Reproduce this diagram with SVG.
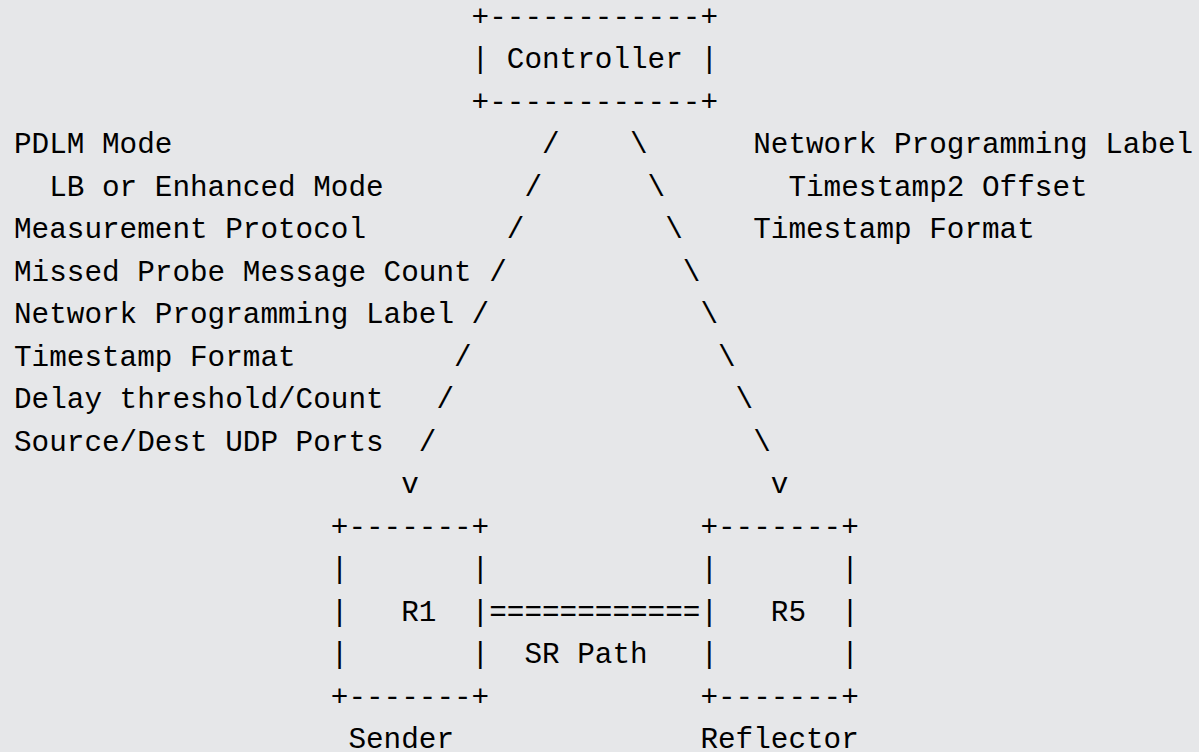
<svg xmlns="http://www.w3.org/2000/svg" width="1199" height="752" viewBox="0 0 1199 752" xml:space="preserve">
<style>
.t{font-family:"Liberation Mono","DejaVu Sans Mono",monospace;font-size:29.33px;fill:#000;white-space:pre}
</style>
<rect x="0" y="0" width="1199" height="752" fill="#e6e7e9"/>
<g transform="translate(1.5,0)">
<g id="controller">
<text class="t" x="470.1" y="25.8">+------------+</text>
<text class="t" x="470.1" y="68.3">|</text>
<text class="t" x="505.3" y="68.3">Controller</text>
<text class="t" x="698.9" y="68.3">|</text>
<text class="t" x="470.1" y="110.8">+------------+</text>
</g>
<g id="left-params">
<text class="t" x="12.5" y="153.3">PDLM Mode</text>
<text class="t" x="47.7" y="195.8">LB or Enhanced Mode</text>
<text class="t" x="12.5" y="238.3">Measurement Protocol</text>
<text class="t" x="12.5" y="280.8">Missed Probe Message Count</text>
<text class="t" x="12.5" y="323.3">Network Programming Label</text>
<text class="t" x="12.5" y="365.8">Timestamp Format</text>
<text class="t" x="12.5" y="408.3">Delay threshold/Count</text>
<text class="t" x="12.5" y="450.8">Source/Dest UDP Ports</text>
</g>
<g id="right-params">
<text class="t" x="751.7" y="153.3">Network Programming Label</text>
<text class="t" x="786.9" y="195.8">Timestamp2 Offset</text>
<text class="t" x="751.7" y="238.3">Timestamp Format</text>
</g>
<g id="r1">
<text class="t" x="329.3" y="535.8">+-------+</text>
<text class="t" x="329.3" y="578.3">|       |</text>
<text class="t" x="329.3" y="620.8">|</text>
<text class="t" x="470.1" y="620.8">|</text>
<text class="t" x="329.3" y="663.3">|       |</text>
<text class="t" x="329.3" y="705.8">+-------+</text>
<text class="t" x="399.7" y="620.8">R1</text>
<text class="t" x="346.9" y="747.5">Sender</text>
</g>
<g id="r5">
<text class="t" x="698.9" y="535.8">+-------+</text>
<text class="t" x="698.9" y="578.3">|       |</text>
<text class="t" x="698.9" y="620.8">|</text>
<text class="t" x="839.7" y="620.8">|</text>
<text class="t" x="698.9" y="663.3">|       |</text>
<text class="t" x="698.9" y="705.8">+-------+</text>
<text class="t" x="769.3" y="620.8">R5</text>
<text class="t" x="698.9" y="747.5">Reflector</text>
</g>
<g id="connectors">
<text class="t" x="540.5" y="153.3">/</text>
<text class="t" x="522.9" y="195.8">/</text>
<text class="t" x="505.3" y="238.3">/</text>
<text class="t" x="487.7" y="280.8">/</text>
<text class="t" x="470.1" y="323.3">/</text>
<text class="t" x="452.5" y="365.8">/</text>
<text class="t" x="434.9" y="408.3">/</text>
<text class="t" x="417.3" y="450.8">/</text>
<text class="t" x="399.7" y="493.3">v</text>
<text class="t" x="628.5" y="153.3">\</text>
<text class="t" x="646.1" y="195.8">\</text>
<text class="t" x="663.7" y="238.3">\</text>
<text class="t" x="681.3" y="280.8">\</text>
<text class="t" x="698.9" y="323.3">\</text>
<text class="t" x="716.5" y="365.8">\</text>
<text class="t" x="734.1" y="408.3">\</text>
<text class="t" x="751.7" y="450.8">\</text>
<text class="t" x="769.3" y="493.3">v</text>
<text class="t" x="487.7" y="620.8">============</text>
<text class="t" x="522.9" y="663.3">SR Path</text>
</g>
</g>
</svg>
